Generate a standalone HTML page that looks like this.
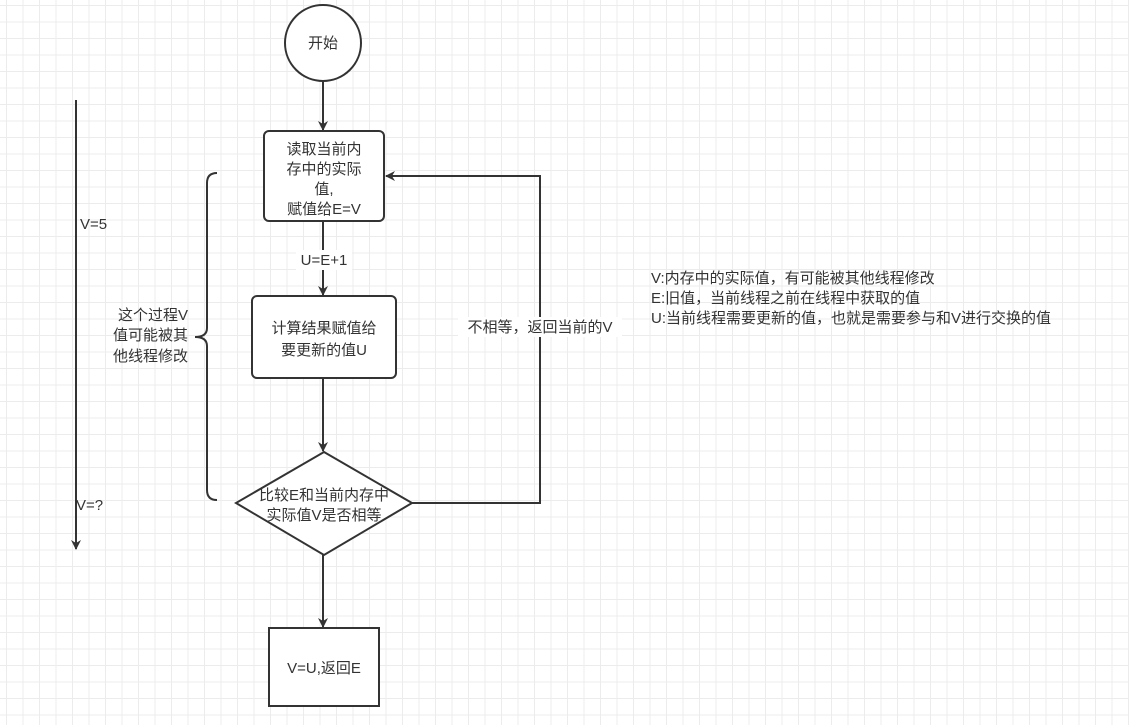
<!DOCTYPE html>
<html><head><meta charset="utf-8"><style>
html,body{margin:0;padding:0;background:#fff;}
body{width:1129px;height:725px;overflow:hidden;position:relative;
background-image:linear-gradient(#ececec 1px,transparent 1px),linear-gradient(90deg,#ececec 1px,transparent 1px);
background-size:16.5px 16.5px;background-position:6px 5px;}
svg{position:absolute;left:0;top:0;}
text{font-family:"Liberation Sans","Noto Sans CJK SC",sans-serif;font-size:15px;fill:#333;}
</style></head><body>
<svg width="1129" height="725" viewBox="0 0 1129 725">
<defs><marker id="a" markerWidth="10" markerHeight="10" refX="9" refY="5" orient="auto" markerUnits="userSpaceOnUse"><path d="M0,0 L10,5 L0,10 L3,5 Z" fill="#333"/></marker></defs>
<g stroke="#333" stroke-width="2" fill="none">
<circle cx="323" cy="43" r="38" fill="#fff"/>
<line x1="323" y1="81" x2="323" y2="130" marker-end="url(#a)"/>
<rect x="264" y="131" width="120" height="90" rx="5" fill="#fff"/>
<line x1="323" y1="221" x2="323" y2="295" marker-end="url(#a)"/>
<rect x="252" y="296" width="144" height="82" rx="5" fill="#fff"/>
<line x1="323" y1="378" x2="323" y2="451" marker-end="url(#a)"/>
<polygon points="324,452 412,503 324,555 236,503" fill="#fff"/>
<polyline points="412,503 540,503 540,176 386,176" marker-end="url(#a)"/>
<line x1="323" y1="555" x2="323" y2="627" marker-end="url(#a)"/>
<rect x="269" y="628" width="110" height="78" fill="#fff"/>
<path d="M217,173 Q207,173 207,183 L207,328 Q207,337 195,337 Q207,337 207,346 L207,490 Q207,500 217,500"/>
<line x1="76" y1="100" x2="76" y2="549" marker-end="url(#a)"/>
</g>
<rect x="296" y="250" width="56" height="20" fill="#fff"/>
<rect x="458" y="317" width="164" height="20" fill="#fff"/>
<text x="323" y="48" text-anchor="middle">开始</text>
<text text-anchor="middle"><tspan x="324" y="154">读取当前内</tspan><tspan x="324" y="174">存中的实际</tspan><tspan x="324" y="194">值,</tspan><tspan x="324" y="214">赋值给E=V</tspan></text>
<text x="324" y="265" text-anchor="middle">U=E+1</text>
<text text-anchor="middle"><tspan x="324" y="333">计算结果赋值给</tspan><tspan x="324" y="355">要更新的值U</tspan></text>
<text text-anchor="middle"><tspan x="324" y="500">比较E和当前内存中</tspan><tspan x="324" y="520">实际值V是否相等</tspan></text>
<text x="540" y="332" text-anchor="middle">不相等，返回当前的V</text>
<text x="324" y="673" text-anchor="middle">V=U,返回E</text>
<text text-anchor="end"><tspan x="188" y="320">这个过程V</tspan><tspan x="188" y="340">值可能被其</tspan><tspan x="188" y="361">他线程修改</tspan></text>
<text x="80" y="229">V=5</text>
<text x="76" y="510">V=?</text>
<text><tspan x="651" y="283">V:内存中的实际值，有可能被其他线程修改</tspan><tspan x="651" y="303">E:旧值，当前线程之前在线程中获取的值</tspan><tspan x="651" y="323">U:当前线程需要更新的值，也就是需要参与和V进行交换的值</tspan></text>
</svg>
</body></html>
